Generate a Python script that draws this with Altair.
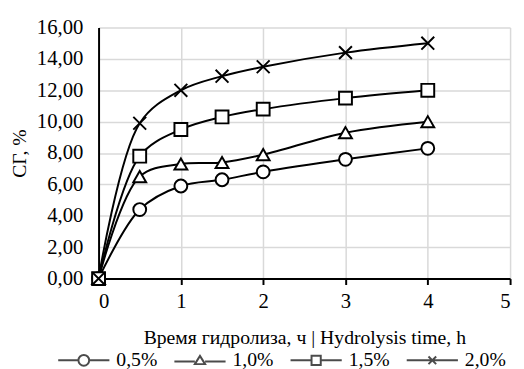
import altair as alt
import pandas as pd

times = [0, 0.5, 1, 1.5, 2, 3, 4]
series_names = ["0,5%", "1,0%", "1,5%", "2,0%"]
s05 = [0, 4.4, 5.9, 6.3, 6.8, 7.6, 8.3]
s10 = [0, 6.5, 7.3, 7.4, 7.9, 9.3, 10.0]
s15 = [0, 7.8, 9.5, 10.3, 10.8, 11.5, 12.0]
s20 = [0, 9.9, 12.0, 12.9, 13.5, 14.4, 15.0]
y_ticks = [0, 2, 4, 6, 8, 10, 12, 14, 16]
x_ticks = [0, 1, 2, 3, 4, 5]

rows = []
for i, (name, vals) in enumerate(zip(series_names, [s05, s10, s15, s20])):
    for t, v in zip(times, vals):
        rows.append({"t": t, "v": v, "s": name, "o": i})
df = pd.DataFrame(rows)

FONT = "Times New Roman, Liberation Serif, serif"
FS = 21

marker_shapes = ["circle", "triangle-up", "square", "M-1,-1L1,1M1,-1L-1,1"]
legend_shapes = [
    "M-1,0L-0.21,0M0.21,0L1,0M-0.21,0A0.21,0.21 0 1,1 0.21,0A0.21,0.21 0 1,1 -0.21,0Z",
    "M-1,0.05L-0.2,0.05M0.2,0.05L1,0.05M-0.2,0.15L0,-0.17L0.2,0.15Z",
    "M-1,0L-0.18,0M0.18,0L1,0M-0.18,-0.18L0.18,-0.18L0.18,0.18L-0.18,0.18Z",
    "M-1,0L1,0M-0.15,-0.15L0.15,0.15M0.15,-0.15L-0.15,0.15",
]

xaxis = alt.Axis(values=x_ticks, title="Время гидролиза, ч | Hydrolysis time, h",
                 grid=True, ticks=True, tickSize=6, tickWidth=2, tickColor="black",
                 domainColor="black", domainWidth=2, labelPadding=6,
                 titlePadding=17, format="d", labelOverlap=False,
                 labelFont=FONT, labelFontSize=FS, labelColor="black",
                 titleFont=FONT, titleFontSize=20, titleFontWeight="normal", titleColor="black",
                 gridColor="#d9d9d9", gridWidth=1.5)
yaxis = alt.Axis(values=y_ticks, title="СГ, %", grid=True, ticks=False,
                 domainColor="black", domainWidth=2, labelPadding=16,
                 titleX=-70, labelOverlap=False,
                 labelExpr="replace(format(datum.value, '.2f'), '.', ',')",
                 labelFont=FONT, labelFontSize=FS, labelColor="black",
                 titleFont=FONT, titleFontSize=20, titleFontWeight="normal", titleColor="black",
                 gridColor="#d9d9d9", gridWidth=1.5)

xscale = alt.Scale(domain=[0, 5], nice=False)
yscale = alt.Scale(domain=[0, 16], nice=False)
xenc = alt.X("t:Q", scale=xscale, axis=xaxis)
yenc = alt.Y("v:Q", scale=yscale, axis=yaxis)

base = alt.Chart(df)

lines = base.mark_line(color="black", strokeWidth=2, interpolate="catmull-rom").encode(
    x=xenc, y=yenc, detail="s:N", order="t:Q")

points = base.mark_point(filled=False, fill="white", fillOpacity=1, color="black",
                         strokeWidth=2, size=170, opacity=1).encode(
    x=xenc, y=yenc,
    shape=alt.Shape("s:N", scale=alt.Scale(domain=series_names, range=marker_shapes), legend=None),
    order="o:Q")

legend_layer = base.transform_calculate(v="-50").mark_point(
    filled=False, color="black", strokeWidth=2, clip=True).encode(
    x=xenc, y=yenc,
    shape=alt.Shape("s:N", scale=alt.Scale(domain=series_names, range=legend_shapes),
                    legend=alt.Legend(title=None, orient="none", direction="horizontal",
                                      legendX=-42, legendY=311, symbolSize=2704,
                                      symbolStrokeWidth=2, symbolStrokeColor="black",
                                      labelFont=FONT, labelFontSize=20, labelColor="black",
                                      labelOffset=6, columnPadding=13, padding=0)))

chart = alt.layer(lines, points, legend_layer).resolve_scale(shape="independent").properties(
    width=418, height=255,
    autosize=alt.AutoSizeParams(type="none"),
    padding={"left": 92, "top": 17, "right": 6, "bottom": 89},
).configure_view(stroke=None)

chart.save("out.html", embed_options={"renderer": "svg", "actions": False})
